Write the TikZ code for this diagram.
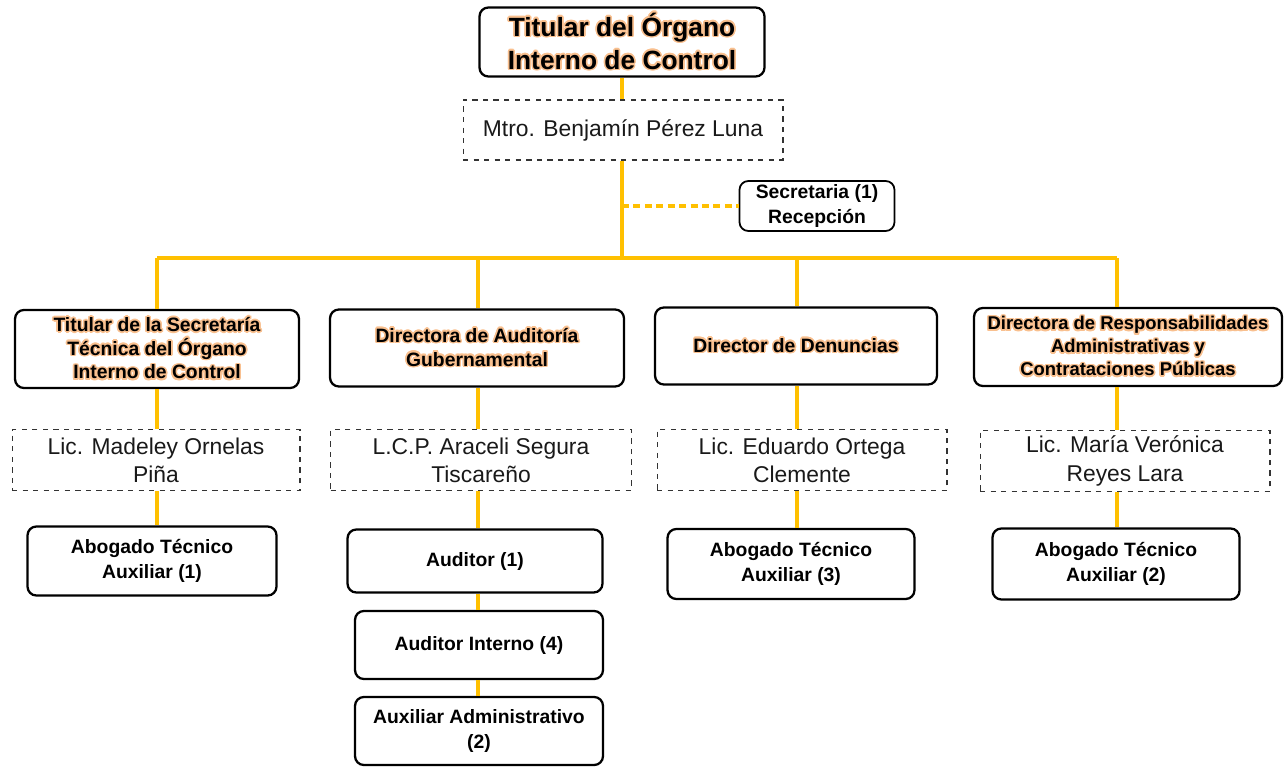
\documentclass[tikz,border=0pt]{standalone}
\usepackage{fontspec}
\setmainfont{Liberation Sans}
\usepackage{contour}
\contourlength{0.9pt}
\definecolor{linea}{HTML}{FFC000}
\definecolor{brillo}{HTML}{F9C08F}
\newcommand{\resalta}[1]{\contour{brillo}{#1}}

\begin{document}
\begin{tikzpicture}[x=0.02cm,y=-0.02cm,
  cargo/.style={draw, rounded corners=5pt, line width=1.3pt, align=center,
    inner sep=1pt, font=\bfseries\fontsize{11}{14}\selectfont},
  nombre/.style={draw=black!80, dashed, line width=0.6pt, align=center,
    inner sep=1pt, text=black!90, font=\fontsize{13}{16}\selectfont},
  enlace/.style={draw=linea, line width=1.9pt}]
\useasboundingbox (0,0) rectangle (1285,767);

\node[cargo, minimum width=5.7cm, minimum height=1.38cm,
  font=\bfseries\fontsize{15}{18.7}\selectfont] (titular) at (622,42)
  {\resalta{Titular del Órgano}\\\resalta{Interno de Control}};
\node[nombre, minimum width=6.4cm, minimum height=1.2cm] (mtro) at (623,130) {Mtro. Benjamín Pérez Luna};
\node[cargo, line width=1pt, minimum width=3.1cm, minimum height=1cm] (secre) at (817,206) {Secretaria (1)\\Recepción};

\coordinate (rama) at (622,206);
\coordinate (bt) at (622,258);
\coordinate (b1) at (157,258);
\coordinate (b2) at (478,258);
\coordinate (b3) at (797,258);
\coordinate (b4) at (1117,258);

\node[cargo, minimum width=5.68cm, minimum height=1.56cm,
  font=\bfseries\fontsize{11}{13.5}\selectfont] (dir1) at (157,349)
  {\resalta{Titular de la Secretaría}\\\resalta{Técnica del Órgano}\\\resalta{Interno de Control}};
\node[cargo, minimum width=5.88cm, minimum height=1.54cm,
  font=\bfseries\fontsize{11}{13.5}\selectfont] (dir2) at (477,348)
  {\resalta{Directora de Auditoría}\\\resalta{Gubernamental}};
\node[cargo, minimum width=5.64cm, minimum height=1.54cm] (dir3) at (796,346)
  {\resalta{Director de Denuncias}};
\node[cargo, minimum width=6.16cm, minimum height=1.56cm,
  font=\bfseries\fontsize{10.5}{13}\selectfont] (dir4) at (1128,347)
  {\resalta{Directora de Responsabilidades}\\\resalta{Administrativas y}\\\resalta{Contrataciones Públicas}};

\node[nombre, minimum width=5.76cm, minimum height=1.22cm] (nom1) at (156,460) {Lic. Madeley Ornelas\\Piña};
\node[nombre, minimum width=6.02cm, minimum height=1.22cm] (nom2) at (481,460) {L.C.P. Araceli Segura\\Tiscareño};
\node[nombre, minimum width=5.8cm, minimum height=1.22cm] (nom3) at (802,460) {Lic. Eduardo Ortega\\Clemente};
\node[nombre, minimum width=5.8cm, minimum height=1.22cm] (nom4) at (1125,461) {Lic. María Verónica\\Reyes Lara};

\node[cargo, minimum width=4.98cm, minimum height=1.38cm] (abo1) at (152,561) {Abogado Técnico\\Auxiliar (1)};
\node[cargo, minimum width=5.1cm, minimum height=1.26cm] (aud) at (475,561) {Auditor (1)};
\node[cargo, minimum width=4.96cm, minimum height=1.36cm] (audint) at (479,645) {Auditor Interno (4)};
\node[cargo, minimum width=4.96cm, minimum height=1.36cm] (auxadm) at (479,731) {Auxiliar Administrativo\\(2)};
\node[cargo, minimum width=4.94cm, minimum height=1.4cm] (abo3) at (791,564) {Abogado Técnico\\Auxiliar (3)};
\node[cargo, minimum width=4.94cm, minimum height=1.42cm] (abo4) at (1116,564) {Abogado Técnico\\Auxiliar (2)};

\draw[enlace] (titular.south -| bt) -- (mtro.north -| bt);
\draw[enlace] (mtro.south -| bt) -- (bt);
\draw[enlace, dash pattern=on 4pt off 2.5pt] (rama) -- (secre.west);
\draw[enlace] (b1) -- (b4);
\draw[enlace] (b1) -- (b1 |- dir1.north);
\draw[enlace] (b2) -- (b2 |- dir2.north);
\draw[enlace] (b3) -- (b3 |- dir3.north);
\draw[enlace] (b4) -- (b4 |- dir4.north);

\draw[enlace] (b1 |- dir1.south) -- (b1 |- nom1.north);
\draw[enlace] (b2 |- dir2.south) -- (b2 |- nom2.north);
\draw[enlace] (b3 |- dir3.south) -- (b3 |- nom3.north);
\draw[enlace] (b4 |- dir4.south) -- (b4 |- nom4.north);

\draw[enlace] (b1 |- nom1.south) -- (b1 |- abo1.north);
\draw[enlace] (b2 |- nom2.south) -- (b2 |- aud.north);
\draw[enlace] (b3 |- nom3.south) -- (b3 |- abo3.north);
\draw[enlace] (b4 |- nom4.south) -- (b4 |- abo4.north);
\draw[enlace] (b2 |- aud.south) -- (b2 |- audint.north);
\draw[enlace] (b2 |- audint.south) -- (b2 |- auxadm.north);

\end{tikzpicture}
\end{document}
